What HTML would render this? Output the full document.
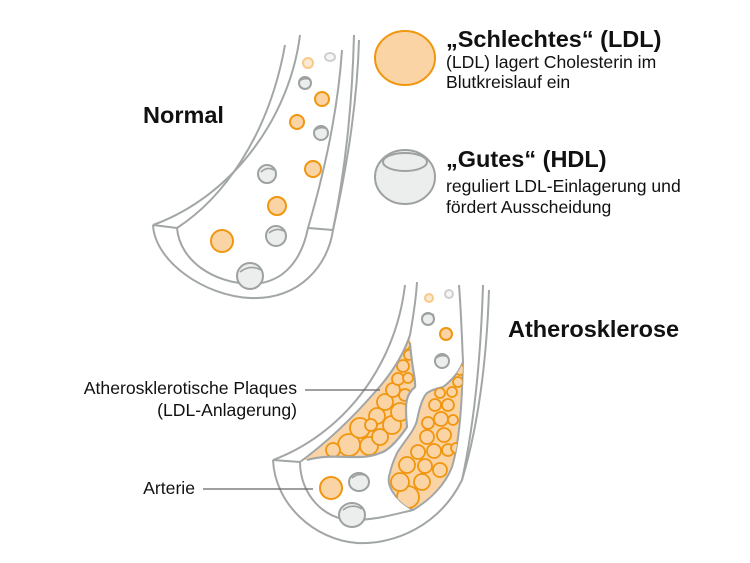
<!DOCTYPE html>
<html><head><meta charset="utf-8"><style>
html,body{margin:0;padding:0;background:#fff}
svg{display:block}
text{font-family:"Liberation Sans",Arial,sans-serif;fill:#111}
.w{fill:none;stroke:#a2a6a7;stroke-width:2}
.l{fill:#fbd4a6;stroke:#f0960f;stroke-width:2}
.h{fill:#eceeed;stroke:#9da1a2;stroke-width:2}
.p circle{fill:#fbd4a6;stroke:#f0960f;stroke-width:1.8}
.b{font-size:17.6px}
.t{font-size:23.5px;font-weight:bold}
</style></head><body>
<svg width="750" height="563" viewBox="0 0 750 563" xmlns="http://www.w3.org/2000/svg">
<defs>
<clipPath id="pl"><path d="M302,460 C330,440 355,415 375,392 C395,370 405,350 410,335 C412,370 416,380 415,387 C405,395 405,405 407,427 C395,445 385,452 380,453 C360,462 335,452 307,460 Z"/></clipPath>
<clipPath id="pr"><path d="M413,510 C395,500 385,485 390,473 C392,463 395,458 397,453 C405,440 415,430 417,420 C420,405 423,397 427,393 C435,388 440,388 443,387 C455,378 460,370 463,362 C462,400 460,440 452,467 C445,485 430,500 413,510 Z"/></clipPath>
</defs>

<!-- Normal artery -->
<path class="w" d="M300,35 C290,115 235,195 153,225 L177,228"/>
<path class="w" d="M153,225 C155,262 205,296 250,298 C300,300 328,265 333,230 C345,170 352,110 354,35"/>
<path class="w" d="M333,230 C345,175 357,110 359,40"/>
<path class="w" d="M177,228 C180,262 215,283 250,284 C285,284 302,258 308,228 L333,230"/>
<path class="w" d="M308,228 C325,170 338,110 342,50"/>
<path class="w" d="M177,228 C220,200 268,140 285,45"/>
<ellipse class="l" cx="308" cy="63" rx="5" ry="5" style="opacity:.5"/>
<ellipse class="h" cx="330" cy="57" rx="5" ry="4" style="opacity:.5"/>
<ellipse class="h" cx="305" cy="83" rx="6" ry="6"/>
<circle class="l" cx="322" cy="99" r="7"/>
<circle class="l" cx="297" cy="122" r="7"/>
<ellipse class="h" cx="321" cy="133" rx="7" ry="7"/>
<circle class="l" cx="313" cy="169" r="8"/>
<ellipse class="h" cx="267" cy="174" rx="9" ry="9"/>
<circle class="l" cx="277" cy="206" r="9"/>
<circle class="l" cx="222" cy="241" r="11"/>
<ellipse class="h" cx="276" cy="236" rx="10" ry="10"/>
<ellipse class="h" cx="250" cy="276" rx="13" ry="13"/>
<path d="M261,172 Q267,166 274,170 M269,233 Q276,227 284,231 M240,272 Q250,264 261,270 M299,81 Q305,77 311,80 M315,130 Q321,126 327,129" fill="none" stroke="#9da1a2" stroke-width="1.6"/>

<text x="143" y="123" class="t">Normal</text>

<!-- Legend -->
<ellipse class="l" cx="405" cy="58" rx="30" ry="27"/>
<ellipse class="h" cx="405" cy="177" rx="30" ry="27"/>
<ellipse cx="405" cy="162" rx="22" ry="9" fill="none" stroke="#9da1a2" stroke-width="2"/>
<text x="446" y="47" class="t">„Schlechtes“ (LDL)</text>
<text x="446" y="68" class="b">(LDL) lagert Cholesterin im</text>
<text x="446" y="88" class="b">Blutkreislauf ein</text>
<text x="446" y="167" class="t">„Gutes“ (HDL)</text>
<text x="446" y="192" class="b">reguliert LDL-Einlagerung und</text>
<text x="446" y="213" class="b">fördert Ausscheidung</text>

<!-- Atherosklerose artery -->
<path class="w" d="M405,285 C395,370 340,435 273,460 L300,462"/>
<path class="w" d="M273,460 C275,505 315,540 357,543 C395,545 440,525 462,480 C475,420 481,350 483,285"/>
<path class="w" d="M462,480 C480,420 487,350 489,290"/>
<path class="w" d="M300,462 C300,495 325,520 352,520 C375,520 392,515 413,510"/>
<path fill="#fbd4a6" stroke="none" d="M302,460 C330,440 355,415 375,392 C395,370 405,350 410,335 C412,370 416,380 415,387 C405,395 405,405 407,427 C395,445 385,452 380,453 C360,462 335,452 307,460 Z"/>
<g class="p" clip-path="url(#pl)">
<circle cx="349" cy="445" r="11"/><circle cx="369" cy="446" r="9"/><circle cx="333" cy="450" r="7"/>
<circle cx="360" cy="428" r="10"/><circle cx="380" cy="437" r="8"/><circle cx="392" cy="425" r="9"/>
<circle cx="377" cy="416" r="8"/><circle cx="400" cy="412" r="9"/><circle cx="385" cy="402" r="8"/>
<circle cx="393" cy="390" r="7"/><circle cx="405" cy="395" r="6"/><circle cx="398" cy="379" r="6"/>
<circle cx="408" cy="378" r="5"/><circle cx="403" cy="366" r="6"/><circle cx="409" cy="355" r="5"/><circle cx="371" cy="425" r="6"/>
<circle cx="405" cy="345" r="5"/>
</g>
<path fill="none" stroke="#a2a6a7" stroke-width="2.2" d="M307,460 C335,452 360,462 380,453 C385,452 395,445 407,427 C405,405 405,395 415,387 C416,380 412,370 410,343"/>
<path class="w" d="M300,462 C330,440 355,415 375,392 C395,370 405,350 410,335 C413,318 416,300 417,282"/>
<path fill="#fbd4a6" stroke="#a2a6a7" stroke-width="2" d="M413,510 C395,500 385,485 390,473 C392,463 395,458 397,453 C405,440 415,430 417,420 C420,405 423,397 427,393 C435,388 440,388 443,387 C455,378 460,370 463,362 C462,400 460,440 452,467 C445,485 430,500 413,510 Z"/>
<g class="p" clip-path="url(#pr)">
<circle cx="408" cy="497" r="11"/><circle cx="400" cy="482" r="9"/><circle cx="422" cy="482" r="8"/>
<circle cx="407" cy="465" r="8"/><circle cx="425" cy="466" r="7"/><circle cx="440" cy="470" r="7"/>
<circle cx="418" cy="452" r="7"/><circle cx="434" cy="451" r="7"/><circle cx="448" cy="450" r="6"/>
<circle cx="427" cy="437" r="7"/><circle cx="444" cy="435" r="7"/><circle cx="428" cy="423" r="6"/>
<circle cx="441" cy="419" r="7"/><circle cx="453" cy="420" r="5"/><circle cx="435" cy="405" r="6"/>
<circle cx="448" cy="405" r="6"/><circle cx="440" cy="393" r="5"/><circle cx="452" cy="392" r="5"/>
<circle cx="458" cy="382" r="5"/><circle cx="460" cy="370" r="5"/><circle cx="456" cy="448" r="5"/>
</g>
<path fill="none" stroke="#a2a6a7" stroke-width="2" d="M463,362 C462,340 461,310 459,285"/>
<circle class="l" cx="429" cy="298" r="4" style="opacity:.5"/>
<ellipse class="h" cx="449" cy="294" rx="4" ry="4" style="opacity:.5"/>
<ellipse class="h" cx="428" cy="319" rx="6" ry="6"/>
<circle class="l" cx="446" cy="334" r="6"/>
<ellipse class="h" cx="442" cy="361" rx="7" ry="7"/>
<circle class="l" cx="331" cy="488" r="11"/>
<ellipse class="h" cx="359" cy="482" rx="10" ry="9"/>
<ellipse class="h" cx="352" cy="515" rx="13" ry="12"/>
<path d="M352,478 Q359,472 367,476 M343,510 Q352,503 362,509 M422,316 Q428,312 434,315 M436,358 Q442,354 448,357" fill="none" stroke="#9da1a2" stroke-width="1.6"/>

<text x="508" y="337" class="t">Atherosklerose</text>
<text x="297" y="394" class="b" text-anchor="end">Atherosklerotische Plaques</text>
<text x="297" y="416" class="b" text-anchor="end">(LDL-Anlagerung)</text>
<line x1="305" y1="390" x2="380" y2="390" stroke="#666" stroke-width="1.3"/>
<text x="195" y="494" class="b" text-anchor="end">Arterie</text>
<line x1="203" y1="489" x2="313" y2="489" stroke="#666" stroke-width="1.3"/>
</svg>
</body></html>
